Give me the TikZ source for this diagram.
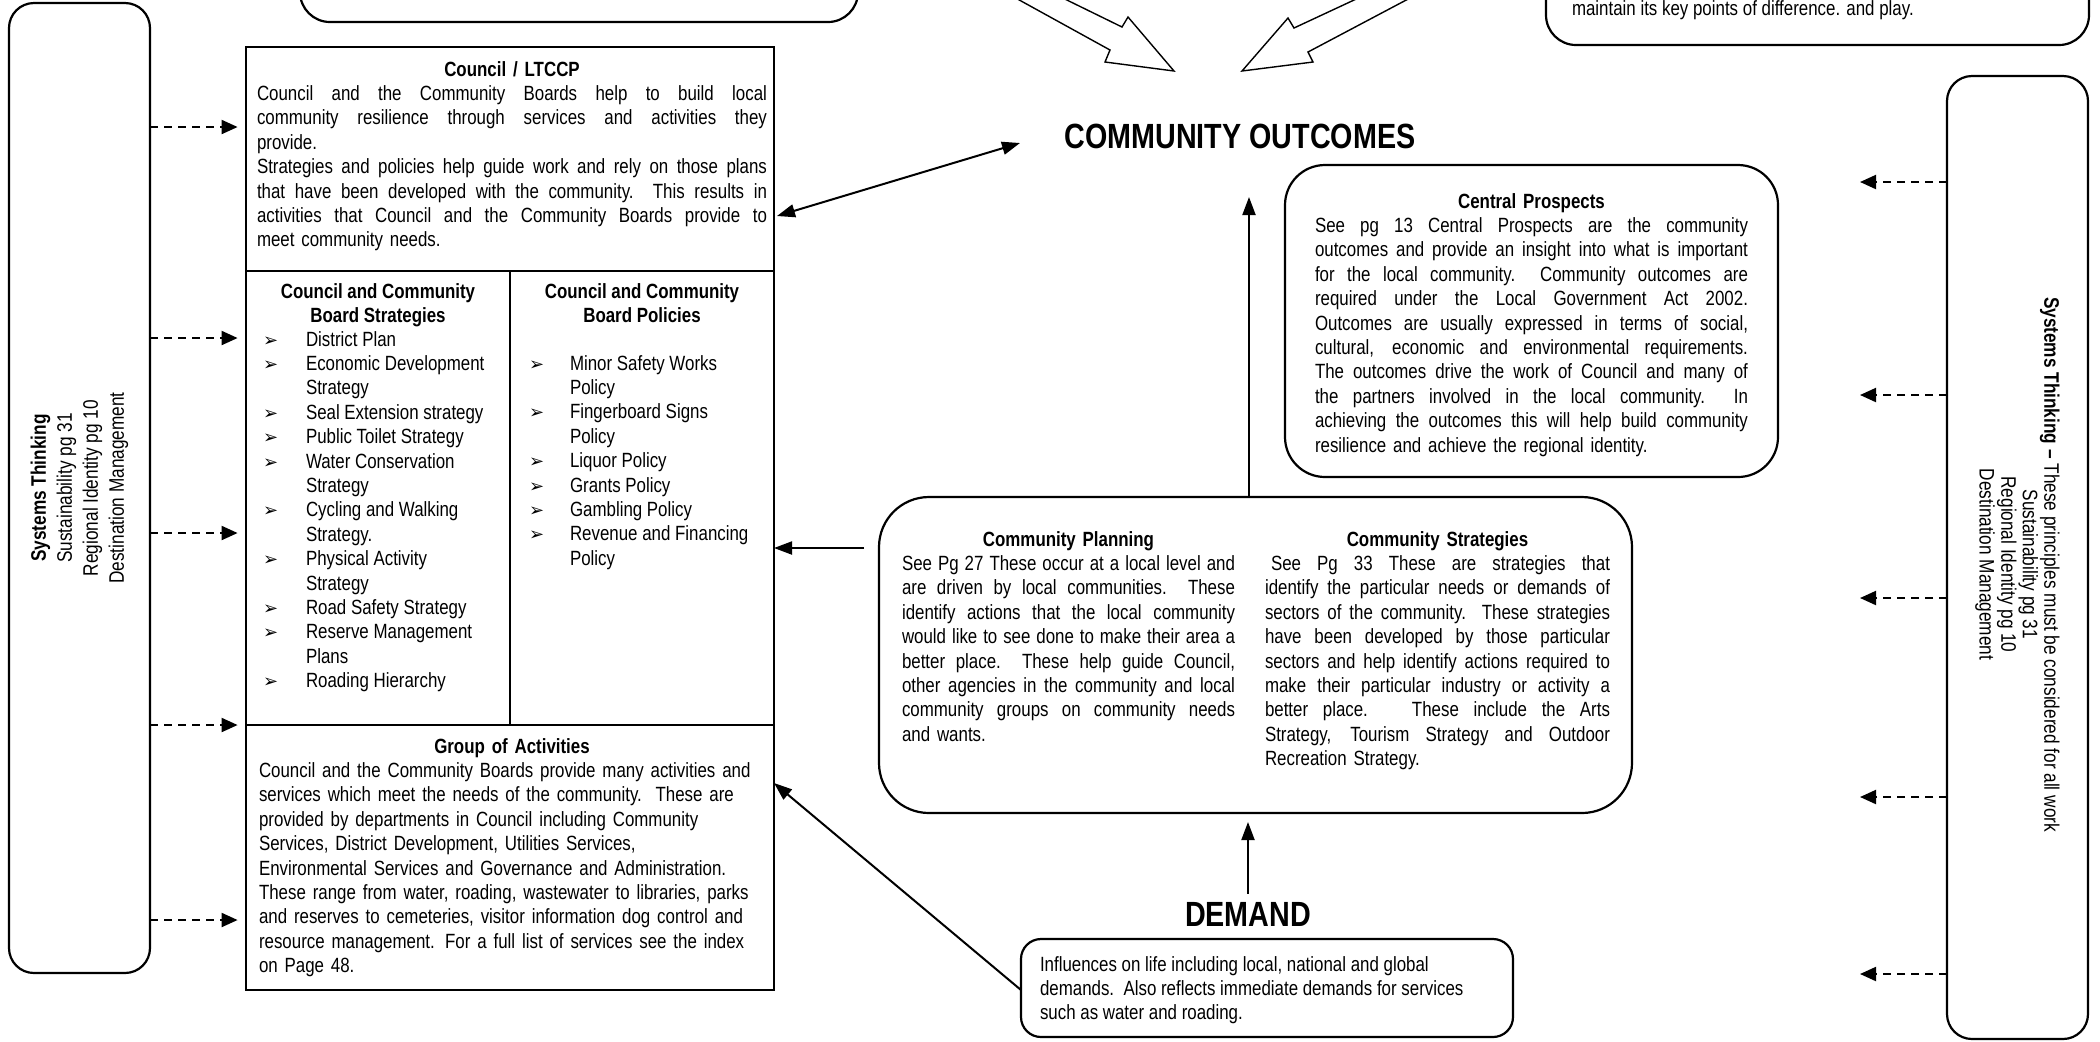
\documentclass[tikz,border=0pt]{standalone}
\usepackage{fontspec}
\setmainfont{Liberation Sans}[FakeStretch=0.82]
\newfontfamily\dvfont{DejaVu Sans}
\usetikzlibrary{arrows.meta,fit,calc}
\newcommand{\jline}[1]{\makebox[\hsize][s]{\spaceskip=\fontdimen2\font plus 1fil minus 0.08em\relax #1}}
\newcommand{\ctrline}[1]{\makebox[\hsize][c]{#1}}
\newcommand{\bulL}{\makebox[21.5pt][l]{\dvfont\fontsize{9}{9}\selectfont ➢}}
\newcommand{\bulR}{\makebox[20.5pt][l]{\dvfont\fontsize{9}{9}\selectfont ➢}}
\newcommand{\indL}{\hspace*{21.5pt}}
\newcommand{\indR}{\hspace*{20.5pt}}
\begin{document}
\begin{tikzpicture}[x=0.5pt,y=-0.5pt,
  txt/.style={inner sep=0pt, outer sep=0pt, font=\fontsize{10.3}{12.2}\selectfont, align=left},
  sqbox/.style={draw, line width=1.1pt, inner sep=0pt, outer sep=0pt},
  rdbox/.style={draw, line width=1.1pt, inner sep=0pt, outer sep=0pt},
  big/.style={inner sep=0pt, font=\fontsize{17.5}{19}\selectfont\bfseries},
  arr/.style={line width=1pt, -{Triangle[length=9pt,width=6.5pt]}},
  darr/.style={line width=1pt, dash pattern=on 4pt off 3pt, -{Triangle[length=8pt,width=7pt]}},
  blockarrow/.style={line width=0.7pt, fill=white, line join=miter}
]
\useasboundingbox (0,0) rectangle (2100,1041);
\clip (0,0) rectangle (2100,1041);

% ---- side boxes ----
\node[rdbox, rounded corners=12.5pt, fit={(9,3) (150,973)}] (lbox) {};
\node[rdbox, rounded corners=12.5pt, fit={(1947,76) (2088,1039)}] (rbox) {};
\node[rotate=90, align=center, inner sep=0pt, font=\fontsize{10.5}{13}\selectfont] (ltxt) at (lbox.center)
  {\textbf{Systems Thinking}\\Sustainability pg 31\\Regional Identity pg 10\\Destination Management};
\node[rotate=-90, align=center, inner sep=0pt, font=\fontsize{10.5}{9.6}\selectfont] (rtxt) at ([yshift=-3.5pt]rbox.center)
  {\textbf{Systems Thinking --} These principles must be considered for all work\\Sustainability pg 31\\Regional Identity pg 10\\Destination Management};

% ---- top boxes (cut by the page edge) ----
\node[rdbox, rounded corners=15pt, fit={(300,-80) (858,22)}] (tlbox) {};
\node[rdbox, rounded corners=15pt, fit={(1546,-80) (2089,45)}] (trbox) {};
\node[txt, anchor=north west] (trtxt) at (1572,-2) {\strut maintain its key points of difference. and play.};

% ---- block arrows ----
\draw[blockarrow] (983,-20) -- (1110,50) -- (1105,62) -- (1174,71) -- (1128,17) -- (1122,27) -- (1026,-20) -- cycle;
\draw[blockarrow] (1444,-20) -- (1308,52) -- (1313,62) -- (1242,71) -- (1288,18) -- (1294,28) -- (1397,-20) -- cycle;

% ---- council structure ----
\node[sqbox, fit={(246,47) (774,271)}] (sec1) {};
\node[sqbox, fit={(246,271) (510,725)}] (strat) {};
\node[sqbox, fit={(510,271) (774,725)}] (pol) {};
\node[sqbox, fit={(246,725) (774,990)}] (grp) {};
\node[inner sep=0pt, fit={(246,47) (774,990)}] (council) {};

\node[txt, anchor=north west, text width=255pt] (sec1txt) at (257,59) {\strut\ctrline{\bfseries Council / LTCCP}\\
\jline{Council and the Community Boards help to build local}\\
\jline{community resilience through services and activities they}\\
provide.\\
\jline{Strategies and policies help guide work and rely on those plans}\\
\jline{that have been developed with the community.\ \ This results in}\\
\jline{activities that Council and the Community Boards provide to}\\
meet community needs.};

\node[txt, anchor=north, align=center, font=\fontsize{10.3}{12.2}\selectfont\bfseries] (strathead) at (378,281)
  {\strut Council and Community\\Board Strategies};
\node[txt, anchor=north, align=center, font=\fontsize{10.3}{12.2}\selectfont\bfseries] (polhead) at (642,281)
  {\strut Council and Community\\Board Policies};

\node[txt, anchor=north west] (stratlist) at (263,329) {\strut\bulL District Plan\\
\bulL Economic Development\\
\indL Strategy\\
\bulL Seal Extension strategy\\
\bulL Public Toilet Strategy\\
\bulL Water Conservation\\
\indL Strategy\\
\bulL Cycling and Walking\\
\indL Strategy.\\
\bulL Physical Activity\\
\indL Strategy\\
\bulL Road Safety Strategy\\
\bulL Reserve Management\\
\indL Plans\\
\bulL Roading Hierarchy};

\node[txt, anchor=north west] (pollist) at (529,353) {\strut\bulR Minor Safety Works\\
\indR Policy\\
\bulR Fingerboard Signs\\
\indR Policy\\
\bulR Liquor Policy\\
\bulR Grants Policy\\
\bulR Gambling Policy\\
\bulR Revenue and Financing\\
\indR Policy};

\node[txt, anchor=north west, text width=253pt] (grptxt) at (259,736) {\strut\ctrline{\bfseries Group of Activities}\\
Council and the Community Boards provide many activities and\\
services which meet the needs of the community.\ \ These are\\
provided by departments in Council including Community\\
Services, District Development, Utilities Services,\\
Environmental Services and Governance and Administration.\\
These range from water, roading, wastewater to libraries, parks\\
and reserves to cemeteries, visitor information dog control and\\
resource management. For a full list of services see the index\\
on Page 48.};

% ---- centre ----
\node[big] (co) at (1240,136) {COMMUNITY OUTCOMES};

\node[rdbox, rounded corners=20pt, fit={(1285,165) (1778,477)}] (cent) {};
\node[txt, anchor=north west, text width=216.5pt] (centtxt) at (1315,191) {\strut\ctrline{\bfseries Central Prospects}\\
\jline{See pg 13 Central Prospects are the community}\\
\jline{outcomes and provide an insight into what is important}\\
\jline{for the local community.\ \ Community outcomes are}\\
\jline{required under the Local Government Act 2002.}\\
\jline{Outcomes are usually expressed in terms of social,}\\
\jline{cultural, economic and environmental requirements.}\\
\jline{The outcomes drive the work of Council and many of}\\
\jline{the partners involved in the local community.\ \ In}\\
\jline{achieving the outcomes this will help build community}\\
resilience and achieve the regional identity.};

\node[rdbox, rounded corners=25pt, fit={(879,497) (1632,813)}] (cp) {};
\node[txt, anchor=north west, text width=166.5pt] (plantxt) at (902,529) {\strut\ctrline{\bfseries Community Planning}\\
\jline{See Pg 27 These occur at a local level and}\\
\jline{are driven by local communities.\ \ These}\\
\jline{identify actions that the local community}\\
\jline{would like to see done to make their area a}\\
\jline{better place.\ \ These help guide Council,}\\
\jline{other agencies in the community and local}\\
\jline{community groups on community needs}\\
and wants.};
\node[txt, anchor=north west, text width=172.5pt] (cstxt) at (1265,529) {\strut\ctrline{\bfseries Community Strategies}\\
\jline{\hspace*{3pt}See Pg 33 These are strategies that}\\
\jline{identify the particular needs or demands of}\\
\jline{sectors of the community.\ \ These strategies}\\
\jline{have been developed by those particular}\\
\jline{sectors and help identify actions required to}\\
\jline{make their particular industry or activity a}\\
\jline{better place.\ \ \ These include the Arts}\\
\jline{Strategy, Tourism Strategy and Outdoor}\\
Recreation Strategy.};

\node[big] (dem) at (1248,914) {DEMAND};
\node[rdbox, rounded corners=10pt, fit={(1021,939) (1513,1037)}] (dbox) {};
\node[txt, anchor=north west] (dtxt) at (1040,954) {\strut Influences on life including local, national and global\\
demands.\ \ Also reflects immediate demands for services\\
such as water and roading.};

% ---- connectors ----
\foreach \i/\yy in {1/127,2/338,3/533,4/725,5/920}{
  \coordinate (L\i) at (0,\yy);
  \draw[darr, shorten >=4pt] (lbox.east |- L\i) -- (council.west |- L\i);
}
\foreach \i/\yy in {1/182,2/395,3/598,4/797,5/974}{
  \coordinate (R\i) at (1860,\yy);
  \draw[darr] (rbox.west |- R\i) -- (R\i);
}

\coordinate (da1) at (0,216);
\coordinate (da2) at (1020,143);
\draw[line width=1pt, {Triangle[length=9pt,width=6.5pt]}-{Triangle[length=9pt,width=6.5pt]}]
  ([xshift=1.5pt]sec1.east |- da1) -- (da2);

\coordinate (y548) at (0,548);
\draw[arr] ([xshift=-7.5pt]cp.west |- y548) -- (pol.east |- y548);

\coordinate (upend) at (1249,197);
\draw[arr] (cp.north -| upend) -- (upend);

\draw[arr, shorten <=4pt, shorten >=4.5pt] (dem.north) -- (dem.north |- cp.south);

\coordinate (y990) at (0,990);
\coordinate (y783) at (0,783);
\draw[arr] (dbox.west |- y990) -- (grp.east |- y783);
\end{tikzpicture}
\end{document}
